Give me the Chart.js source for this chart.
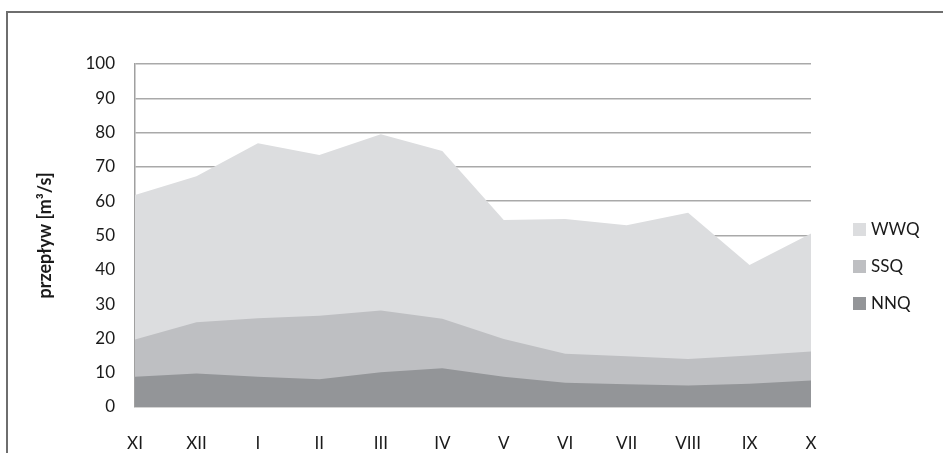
<!DOCTYPE html>
<html>
<head>
<meta charset="utf-8">
<script src="https://cdn.jsdelivr.net/npm/chart.js@4"></script>
<style>
  html, body { margin: 0; padding: 0; background: #fff; }
  #wrap { width: 943px; height: 453px; }
</style>
</head>
<body>
<div id="wrap"><canvas id="myChart" width="943" height="453"></canvas></div>
<script>
// months of the hydrological year
const months = ['XI', 'XII', 'I', 'II', 'III', 'IV', 'V', 'VI', 'VII', 'VIII', 'IX', 'X'];
const wwq = [61.8, 67.3, 76.9, 73.5, 79.5, 74.6, 54.5, 54.8, 53.0, 56.6, 41.4, 50.6];
const ssq = [19.7, 24.7, 25.9, 26.6, 28.1, 25.7, 19.8, 15.5, 14.8, 14.0, 15.0, 16.2];
const nnq = [8.8, 9.8, 8.8, 8.1, 10.1, 11.3, 8.8, 7.1, 6.6, 6.3, 6.8, 7.7];
const yTicks = [0, 10, 20, 30, 40, 50, 60, 70, 80, 90, 100];

const fontFam = 'Lato, "Open Sans", sans-serif';

// outer frame + legend on the right
const framePlugin = {
    id: 'frame',
    beforeDraw(chart) {
        const c = chart.ctx;
        c.save();
        c.fillStyle = '#fff';
        c.fillRect(0, 0, chart.width, chart.height);
        c.strokeStyle = '#6e6e6e';
        c.lineWidth = 2;
        c.beginPath();
        c.moveTo(7, chart.height);
        c.lineTo(7, 12);
        c.lineTo(chart.width, 12);
        c.stroke();
        c.restore();
    },
    afterDraw(chart) {
        const c = chart.ctx;
        c.save();
        c.font = '17px ' + fontFam;
        c.textBaseline = 'middle';
        chart.data.datasets.forEach((ds, i) => {
            const y = 223 + i * 37;
            c.fillStyle = ds.backgroundColor;
            c.fillRect(853, y, 13, 13);
            c.fillStyle = '#1a1a1a';
            c.fillText(ds.label, 871, y + 7);
        });
        c.restore();
    }
};

const ctx = document.getElementById('myChart').getContext('2d');
const myChart = new Chart(ctx, {
    type: 'line',
    data: {
        labels: months,
        datasets: [
            { label: 'WWQ', data: wwq, backgroundColor: '#dcdddf', fill: 'origin', order: 3 },
            { label: 'SSQ', data: ssq, backgroundColor: '#bebfc2', fill: 'origin', order: 2 },
            { label: 'NNQ', data: nnq, backgroundColor: '#939598', fill: 'origin', order: 1 }
        ]
    },
    options: {
        responsive: false,
        animation: false,
        layout: { padding: { left: 0, top: 64, right: 132, bottom: 0 } },
        elements: {
            line: { borderWidth: 0, tension: 0 },
            point: { radius: 0, hoverRadius: 0 }
        },
        plugins: {
            legend: { display: false },
            tooltip: { enabled: false }
        },
        scales: {
            x: {
                offset: false,
                grid: { display: false },
                border: { display: false },
                ticks: {
                    color: '#1a1a1a',
                    font: { family: fontFam, size: 17 },
                    padding: 18,
                    maxRotation: 0
                },
                afterFit(scale) { scale.height = 46; }
            },
            y: {
                min: 0,
                max: 100,
                afterBuildTicks(scale) { scale.ticks = yTicks.map(v => ({ value: v })); },
                grid: { color: '#a9a9a9', lineWidth: 1.5, drawTicks: false },
                border: { display: true, color: '#a0a0a0', width: 1.5 },
                ticks: {
                    color: '#1a1a1a',
                    font: { family: fontFam, size: 17 },
                    padding: 20
                },
                title: {
                    display: true,
                    text: 'przepływ [m³/s]',
                    color: '#1a1a1a',
                    font: { family: fontFam, size: 18, weight: 'bold' },
                    padding: { top: 34, bottom: 0 }
                },
                afterFit(scale) { scale.width = 135; }
            }
        }
    },
    plugins: [framePlugin]
});
</script>
</body>
</html>
